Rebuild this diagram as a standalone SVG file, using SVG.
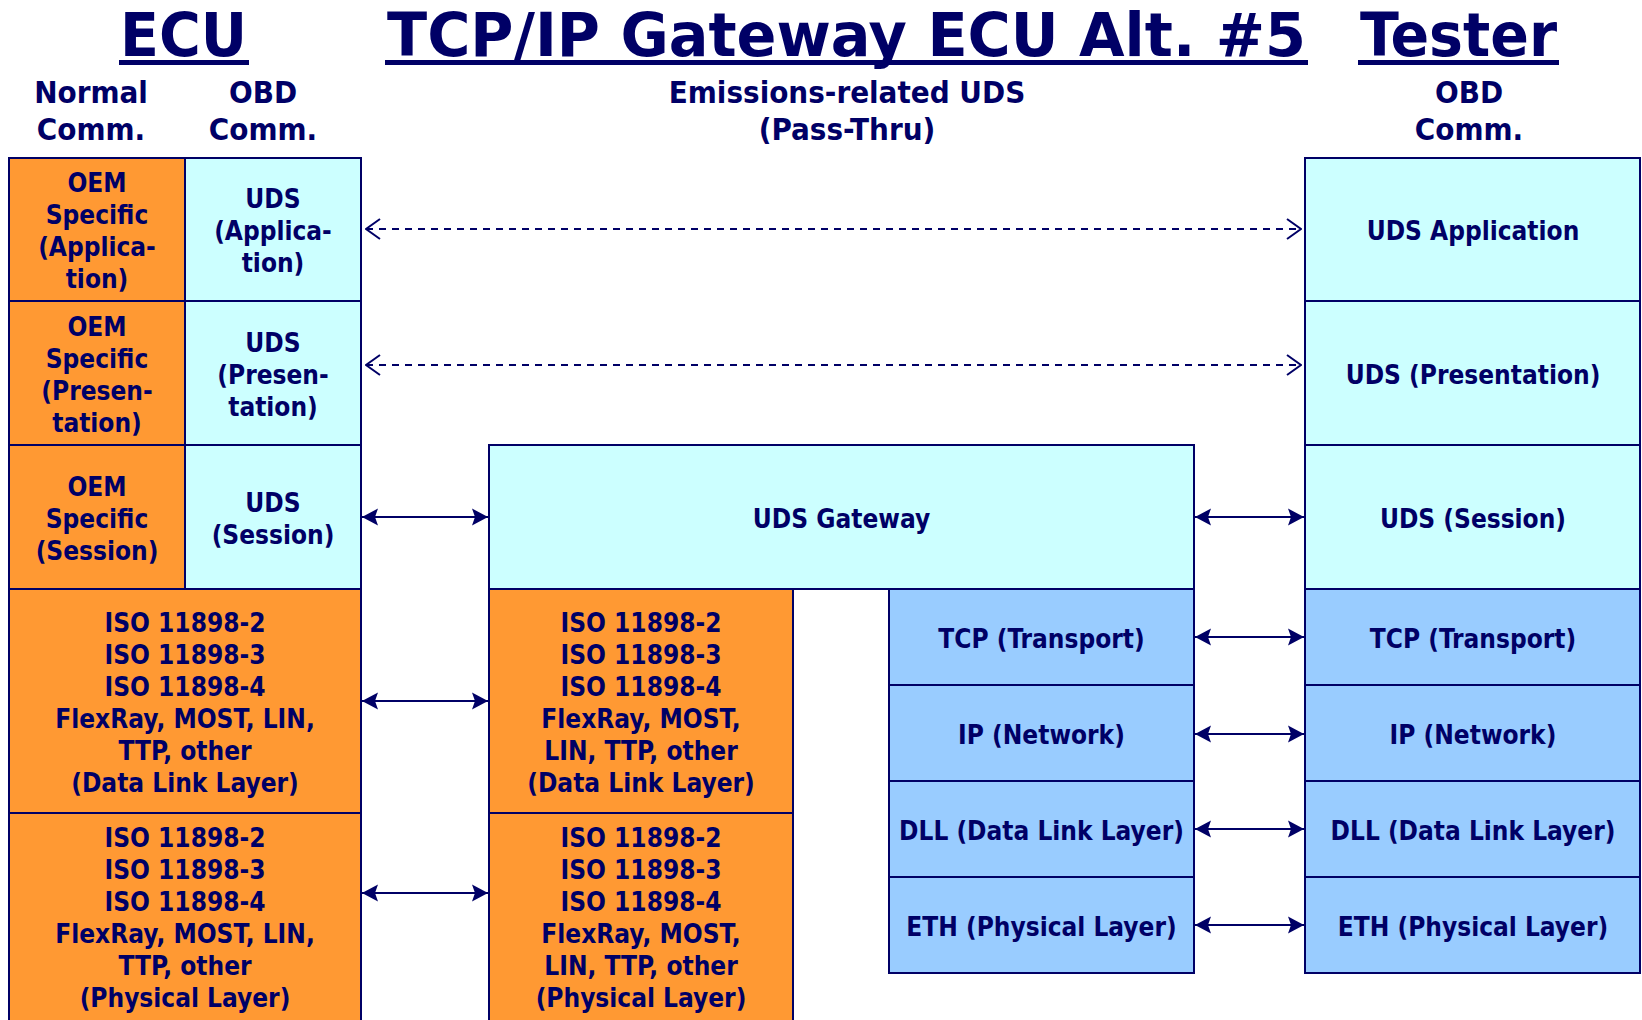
<svg xmlns="http://www.w3.org/2000/svg" width="1642" height="1020" viewBox="0 0 1642 1020">
  <style>
    .t { font-family: 'DejaVu Sans Condensed', 'DejaVu Sans', sans-serif; font-stretch: condensed; font-weight: bold; fill: #000066; text-anchor: middle; }
    .title { font-size: 60px; }
    .head { font-size: 31px; }
    .body { font-size: 26px; }
    .box { stroke: #000066; stroke-width: 2; }
    .orange { fill: #FF9933; }
    .cyan { fill: #CCFFFF; }
    .blue { fill: #99CCFF; }
    .ul { fill: #000066; }
    .link { stroke: #000066; stroke-width: 2; fill: none; }
    .solid { marker-start: url(#head); marker-end: url(#head); }
    .dashed { stroke-dasharray: 7 6; marker-start: url(#open); marker-end: url(#open); }
  </style>
  <defs>
    <marker id="head" viewBox="0 0 16 18" refX="16" refY="9" markerWidth="16" markerHeight="18" markerUnits="userSpaceOnUse" orient="auto-start-reverse">
      <path d="M0,0.5 L16,9 L0,17.5 L3,9 Z" fill="#000066"/>
    </marker>
    <marker id="open" viewBox="0 0 16 22" refX="15" refY="11" markerWidth="16" markerHeight="22" markerUnits="userSpaceOnUse" orient="auto-start-reverse">
      <path d="M1,1 L15,11 L1,21" fill="none" stroke="#000066" stroke-width="2"/>
    </marker>
  </defs>

  <rect width="1642" height="1020" fill="#FFFFFF"/>

  <!-- titles -->
  <g id="titles">
    <text class="t title" x="183.5" y="56" textLength="127" lengthAdjust="spacingAndGlyphs">ECU</text>
    <rect class="ul" x="119" y="60" width="130" height="5"/>
    <text class="t title" x="846.5" y="56" textLength="919" lengthAdjust="spacingAndGlyphs">TCP/IP Gateway ECU Alt. #5</text>
    <rect class="ul" x="385" y="60" width="923" height="5"/>
    <text class="t title" x="1458.5" y="56" textLength="197" lengthAdjust="spacingAndGlyphs">Tester</text>
    <rect class="ul" x="1358" y="60" width="201" height="5"/>
  </g>

  <!-- column headings -->
  <g id="headings">
    <text class="t head"><tspan x="91" y="103">Normal</tspan><tspan x="91" y="140">Comm.</tspan></text>
    <text class="t head"><tspan x="263" y="103">OBD</tspan><tspan x="263" y="140">Comm.</tspan></text>
    <text class="t head"><tspan x="847" y="103">Emissions-related UDS</tspan><tspan x="847" y="140">(Pass-Thru)</tspan></text>
    <text class="t head"><tspan x="1469" y="103">OBD</tspan><tspan x="1469" y="140">Comm.</tspan></text>
  </g>

  <!-- ECU stack: normal communication column -->
  <g id="ecu-oem-application">
    <rect class="box orange" x="9" y="158" width="176" height="143"/>
    <text class="t body"><tspan x="97" y="192">OEM</tspan><tspan x="97" y="224">Specific</tspan><tspan x="97" y="256">(Applica-</tspan><tspan x="97" y="288">tion)</tspan></text>
  </g>
  <g id="ecu-oem-presentation">
    <rect class="box orange" x="9" y="301" width="176" height="144"/>
    <text class="t body"><tspan x="97" y="336">OEM</tspan><tspan x="97" y="368">Specific</tspan><tspan x="97" y="400">(Presen-</tspan><tspan x="97" y="432">tation)</tspan></text>
  </g>
  <g id="ecu-oem-session">
    <rect class="box orange" x="9" y="445" width="176" height="144"/>
    <text class="t body"><tspan x="97" y="496">OEM</tspan><tspan x="97" y="528">Specific</tspan><tspan x="97" y="560">(Session)</tspan></text>
  </g>

  <!-- ECU stack: OBD communication column -->
  <g id="ecu-uds-application">
    <rect class="box cyan" x="185" y="158" width="176" height="143"/>
    <text class="t body"><tspan x="273" y="208">UDS</tspan><tspan x="273" y="240">(Applica-</tspan><tspan x="273" y="272">tion)</tspan></text>
  </g>
  <g id="ecu-uds-presentation">
    <rect class="box cyan" x="185" y="301" width="176" height="144"/>
    <text class="t body"><tspan x="273" y="352">UDS</tspan><tspan x="273" y="384">(Presen-</tspan><tspan x="273" y="416">tation)</tspan></text>
  </g>
  <g id="ecu-uds-session">
    <rect class="box cyan" x="185" y="445" width="176" height="144"/>
    <text class="t body"><tspan x="273" y="512">UDS</tspan><tspan x="273" y="544">(Session)</tspan></text>
  </g>

  <!-- ECU lower layers -->
  <g id="ecu-data-link">
    <rect class="box orange" x="9" y="589" width="352" height="224"/>
    <text class="t body"><tspan x="185" y="632">ISO 11898-2</tspan><tspan x="185" y="664">ISO 11898-3</tspan><tspan x="185" y="696">ISO 11898-4</tspan><tspan x="185" y="728">FlexRay, MOST, LIN,</tspan><tspan x="185" y="760">TTP, other</tspan><tspan x="185" y="792">(Data Link Layer)</tspan></text>
  </g>
  <g id="ecu-physical">
    <rect class="box orange" x="9" y="813" width="352" height="212"/>
    <text class="t body"><tspan x="185" y="847">ISO 11898-2</tspan><tspan x="185" y="879">ISO 11898-3</tspan><tspan x="185" y="911">ISO 11898-4</tspan><tspan x="185" y="943">FlexRay, MOST, LIN,</tspan><tspan x="185" y="975">TTP, other</tspan><tspan x="185" y="1007">(Physical Layer)</tspan></text>
  </g>

  <!-- Gateway ECU -->
  <g id="gw-uds-gateway">
    <rect class="box cyan" x="489" y="445" width="705" height="144"/>
    <text class="t body" x="841.5" y="527.5">UDS Gateway</text>
  </g>
  <g id="gw-data-link">
    <rect class="box orange" x="489" y="589" width="304" height="224"/>
    <text class="t body"><tspan x="641" y="632">ISO 11898-2</tspan><tspan x="641" y="664">ISO 11898-3</tspan><tspan x="641" y="696">ISO 11898-4</tspan><tspan x="641" y="728">FlexRay, MOST,</tspan><tspan x="641" y="760">LIN, TTP, other</tspan><tspan x="641" y="792">(Data Link Layer)</tspan></text>
  </g>
  <g id="gw-physical">
    <rect class="box orange" x="489" y="813" width="304" height="212"/>
    <text class="t body"><tspan x="641" y="847">ISO 11898-2</tspan><tspan x="641" y="879">ISO 11898-3</tspan><tspan x="641" y="911">ISO 11898-4</tspan><tspan x="641" y="943">FlexRay, MOST,</tspan><tspan x="641" y="975">LIN, TTP, other</tspan><tspan x="641" y="1007">(Physical Layer)</tspan></text>
  </g>
  <g id="gw-tcp">
    <rect class="box blue" x="889" y="589" width="305" height="96"/>
    <text class="t body" x="1041.5" y="647.5">TCP (Transport)</text>
  </g>
  <g id="gw-ip">
    <rect class="box blue" x="889" y="685" width="305" height="96"/>
    <text class="t body" x="1041.5" y="743.5">IP (Network)</text>
  </g>
  <g id="gw-dll">
    <rect class="box blue" x="889" y="781" width="305" height="96"/>
    <text class="t body" x="1041.5" y="839.5">DLL (Data Link Layer)</text>
  </g>
  <g id="gw-eth">
    <rect class="box blue" x="889" y="877" width="305" height="96"/>
    <text class="t body" x="1041.5" y="935.5">ETH (Physical Layer)</text>
  </g>

  <!-- Tester stack -->
  <g id="tester-application">
    <rect class="box cyan" x="1305" y="158" width="335" height="143"/>
    <text class="t body" x="1473" y="240">UDS Application</text>
  </g>
  <g id="tester-presentation">
    <rect class="box cyan" x="1305" y="301" width="335" height="144"/>
    <text class="t body" x="1473" y="384">UDS (Presentation)</text>
  </g>
  <g id="tester-session">
    <rect class="box cyan" x="1305" y="445" width="335" height="144"/>
    <text class="t body" x="1473" y="527.5">UDS (Session)</text>
  </g>
  <g id="tester-tcp">
    <rect class="box blue" x="1305" y="589" width="335" height="96"/>
    <text class="t body" x="1473" y="647.5">TCP (Transport)</text>
  </g>
  <g id="tester-ip">
    <rect class="box blue" x="1305" y="685" width="335" height="96"/>
    <text class="t body" x="1473" y="743.5">IP (Network)</text>
  </g>
  <g id="tester-dll">
    <rect class="box blue" x="1305" y="781" width="335" height="96"/>
    <text class="t body" x="1473" y="839.5">DLL (Data Link Layer)</text>
  </g>
  <g id="tester-eth">
    <rect class="box blue" x="1305" y="877" width="335" height="96"/>
    <text class="t body" x="1473" y="935.5">ETH (Physical Layer)</text>
  </g>

  <!-- peer-to-peer links -->
  <g id="connectors">
    <line class="link dashed" x1="366" y1="229" x2="1301" y2="229"/>
    <line class="link dashed" x1="366" y1="365" x2="1301" y2="365"/>
    <line class="link solid" x1="362" y1="517" x2="488" y2="517"/>
    <line class="link solid" x1="1195" y1="517" x2="1304" y2="517"/>
    <line class="link solid" x1="362" y1="701" x2="488" y2="701"/>
    <line class="link solid" x1="362" y1="893" x2="488" y2="893"/>
    <line class="link solid" x1="1195" y1="637" x2="1304" y2="637"/>
    <line class="link solid" x1="1195" y1="734" x2="1304" y2="734"/>
    <line class="link solid" x1="1195" y1="829" x2="1304" y2="829"/>
    <line class="link solid" x1="1195" y1="925" x2="1304" y2="925"/>
  </g>
</svg>
